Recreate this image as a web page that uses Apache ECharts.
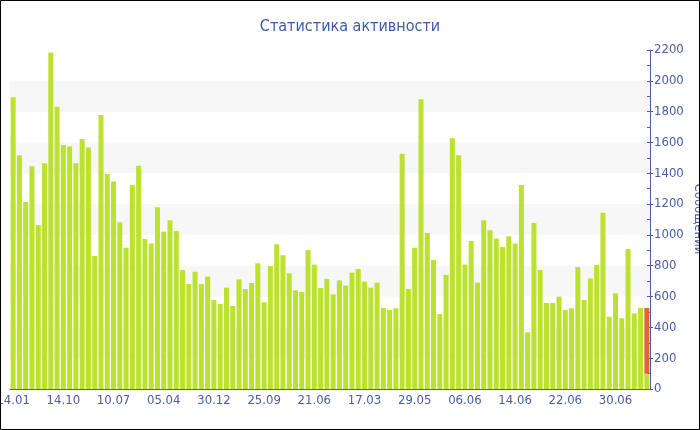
<!DOCTYPE html>
<html><head><meta charset="utf-8">
<script src="https://cdn.jsdelivr.net/npm/echarts@6/dist/echarts.min.js"></script>
<style>html,body{margin:0;padding:0;background:#fff}#c{width:700px;height:430px}</style>
</head><body><div id="c"></div>
<script>
var titleText = 'Статистика активности';
var axisName = 'Сообщений';
var tickLabels = ['14.01','14.10','10.07','05.04','30.12','25.09','21.06','17.03','29.05','06.06','14.06','22.06','30.06'];
var mainValues = [
1893,1517,1214,1445,1064,1465,2183,1832,1584,1573,
1465,1623,1568,863,1778,1395,1346,1082,917,1324,
1449,973,945,1179,1021,1095,1025,772,681,761,
681,729,578,552,658,539,712,649,688,816,
563,798,939,868,751,640,630,902,807,655,
714,614,705,671,755,779,697,658,690,526,
513,524,1527,649,917,1880,1012,837,487,740,
1627,1517,807,960,690,1095,1030,976,922,991,
945,1324,368,1077,772,558,558,599,513,524,
792,578,718,805,1144,469,621,459,909,491,
526,99];
var extraValues = [];
for (var k = 0; k < 101; k++) extraValues.push('-');
extraValues.push(427);
var categories = mainValues.map(function(v,i){
  return i % 8 === 0 ? tickLabels[i/8] : tickLabels[Math.floor(i/8)] + '+' + (i % 8);
});
var blue = '#4a5ca3';
var font = 'DejaVu Sans Condensed';
var chart = echarts.init(document.getElementById('c'), null, {renderer:'canvas'});
chart.setOption({
  animation:false,
  title:{text:titleText,left:'center',top:14,textStyle:{color:'#3f58a6',fontSize:16,fontWeight:'normal',fontFamily:font}},
  grid:{left:10,right:50,top:50,bottom:41,containLabel:false,outerBoundsMode:'none'},
  graphic:[
    {type:'rect',shape:{x:0.5,y:0.5,width:699,height:429},style:{fill:'none',stroke:'#000',lineWidth:1},z:100},
    {type:'text',x:698,y:219,rotation:-Math.PI/2,z:50,
     style:{text:axisName,fill:blue,font:'13px "DejaVu Sans Condensed"',align:'center',verticalAlign:'middle',textAlign:'center',textVerticalAlign:'middle'}}
  ],
  xAxis:{type:'category',data:categories,
    axisLine:{lineStyle:{color:blue}},
    axisTick:{alignWithLabel:true,interval:7,length:4,lineStyle:{color:blue}},
    axisLabel:{interval:7,color:blue,fontSize:13,fontFamily:font,margin:5},
    splitLine:{show:false}},
  yAxis:[{type:'value',position:'right',min:0,max:2200,interval:200,
    axisLine:{show:true,lineStyle:{color:blue}},
    axisTick:{show:true,length:3,lineStyle:{color:blue}},
    axisLabel:{color:blue,fontSize:13,fontFamily:font,margin:4,formatter:function(v){return String(v);}},
    splitLine:{show:false},
    splitArea:{show:true,areaStyle:{color:['rgba(255,255,255,0)','#f7f7f7']}}},
   {type:'value',position:'right',min:0,max:2200,interval:100,
    axisLine:{show:false},axisLabel:{show:false},splitLine:{show:false},
    axisTick:{show:true,inside:true,length:3,lineStyle:{color:blue}}}],
  series:[
    {type:'bar',stack:'s',data:mainValues,barCategoryGap:'20%',itemStyle:{color:'#bde130'}},
    {type:'bar',stack:'s',data:extraValues,itemStyle:{color:'#e3643b'}}
  ]
});
</script></body></html>
